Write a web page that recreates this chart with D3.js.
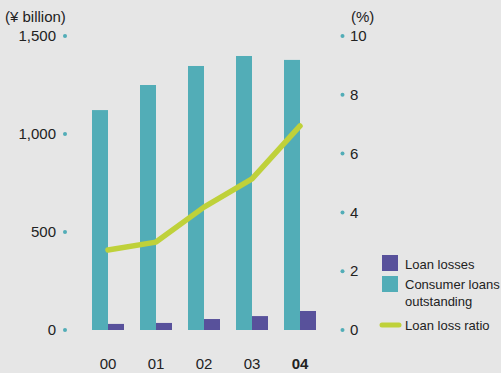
<!DOCTYPE html>
<html>
<head>
<meta charset="utf-8">
<script src="https://cdn.jsdelivr.net/npm/d3@7"></script>
<style>
  html, body { margin: 0; padding: 0; background: #e6e6e6; }
  svg { display: block; font-family: "Liberation Sans", Arial, sans-serif; }
</style>
</head>
<body>
<svg id="chart" width="501" height="373"></svg>
<script>
// Fiscal years
const years = ["00", "01", "02", "03", "04"];
// Consumer loans outstanding (¥ billion)
const loansOutstanding = [1122, 1250, 1347, 1398, 1378];
// Loan losses (¥ billion)
const loanLosses = [31, 36, 56, 71, 97];
// Loan loss ratio (%)
const lossRatio = [2.72, 2.99, 4.18, 5.14, 6.94];

const leftTicks = [0, 500, 1000, 1500];
const rightTicks = [0, 2, 4, 6, 8, 10];

const teal = "#52adb7", purple = "#58519b", lime = "#bfd13a", ink = "#222";

const svg = d3.select("#chart");
const plotTop = 36, plotBase = 330;

const yL = d3.scaleLinear().domain([0, 1500]).range([plotBase, plotTop]);
const yR = d3.scaleLinear().domain([0, 10]).range([plotBase, plotTop]);
const x = d3.scaleBand().domain(years).range([92, 316]).paddingInner(1 / 3).paddingOuter(0);
const inner = d3.scaleBand().domain(["loans", "losses"]).range([0, x.bandwidth()]);

// Left axis: labels with a dot marker
const gL = svg.append("g");
leftTicks.forEach(t => {
  gL.append("text").attr("x", 56).attr("y", yL(t)).attr("dy", "0.35em")
    .attr("text-anchor", "end").attr("font-size", 15).attr("fill", ink)
    .text(d3.format(",")(t));
  gL.append("circle").attr("cx", 65).attr("cy", yL(t)).attr("r", 2).attr("fill", teal);
});
svg.append("text").attr("x", 5).attr("y", 17).attr("dy", "0.35em")
  .attr("font-size", 15).attr("fill", ink).text("(¥ billion)");

// Right axis
const gR = svg.append("g");
rightTicks.forEach(t => {
  gR.append("text").attr("x", 350).attr("y", yR(t)).attr("dy", "0.35em")
    .attr("font-size", 15).attr("fill", ink).text(t);
  gR.append("circle").attr("cx", 342.5).attr("cy", yR(t)).attr("r", 2).attr("fill", teal);
});
svg.append("text").attr("x", 351).attr("y", 17).attr("dy", "0.35em")
  .attr("font-size", 15).attr("fill", ink).text("(%)");

// Bars
const groups = svg.append("g").selectAll("g").data(years).join("g")
  .attr("transform", d => `translate(${x(d)},0)`);
groups.append("rect")
  .attr("x", inner("loans")).attr("width", inner.bandwidth())
  .attr("y", (d, i) => yL(loansOutstanding[i]))
  .attr("height", (d, i) => plotBase - yL(loansOutstanding[i]))
  .attr("fill", teal);
groups.append("rect")
  .attr("x", inner("losses")).attr("width", inner.bandwidth())
  .attr("y", (d, i) => yL(loanLosses[i]))
  .attr("height", (d, i) => plotBase - yL(loanLosses[i]))
  .attr("fill", purple);

// Loan loss ratio line
const line = d3.line()
  .x((d, i) => x(years[i]) + x.bandwidth() / 2)
  .y(d => yR(d));
svg.append("path").datum(lossRatio).attr("d", line)
  .attr("fill", "none").attr("stroke", lime).attr("stroke-width", 5.5)
  .attr("stroke-linecap", "round").attr("stroke-linejoin", "round");

// Category labels
svg.append("g").selectAll("text").data(years).join("text")
  .attr("x", d => x(d) + x.bandwidth() / 2).attr("y", 364).attr("dy", "0.35em")
  .attr("text-anchor", "middle").attr("font-size", 15).attr("fill", ink)
  .attr("font-weight", (d, i) => i === years.length - 1 ? "bold" : "normal")
  .text(d => d);

// Legend
const lg = svg.append("g");
lg.append("rect").attr("x", 382).attr("y", 255).attr("width", 16).attr("height", 16).attr("fill", purple);
lg.append("text").attr("x", 405).attr("y", 264).attr("dy", "0.35em").attr("font-size", 13).attr("fill", ink).text("Loan losses");
lg.append("rect").attr("x", 382).attr("y", 276).attr("width", 16).attr("height", 16).attr("fill", teal);
lg.append("text").attr("x", 405).attr("y", 284).attr("dy", "0.35em").attr("font-size", 13).attr("fill", ink).text("Consumer loans");
lg.append("text").attr("x", 405).attr("y", 301).attr("dy", "0.35em").attr("font-size", 13).attr("fill", ink).text("outstanding");
lg.append("line").attr("x1", 382).attr("x2", 399).attr("y1", 325).attr("y2", 325)
  .attr("stroke", lime).attr("stroke-width", 5).attr("stroke-linecap", "round");
lg.append("text").attr("x", 405).attr("y", 325).attr("dy", "0.35em").attr("font-size", 13).attr("fill", ink).text("Loan loss ratio");
</script>
</body>
</html>
